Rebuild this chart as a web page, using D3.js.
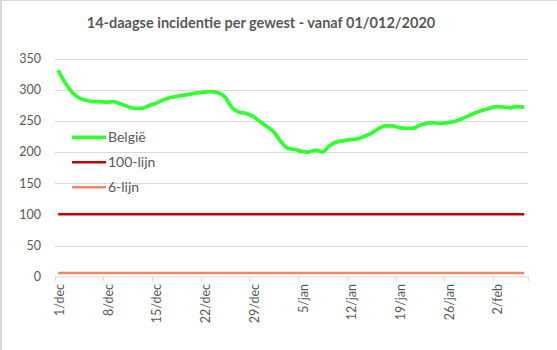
<!DOCTYPE html>
<html>
<head>
<meta charset="utf-8">
<script src="https://cdn.jsdelivr.net/npm/d3@7"></script>
<style>
  html, body { margin: 0; padding: 0; background: #fff; }
  svg { display: block; }
  text { font-family: Lato, "Open Sans", sans-serif; fill: #595959; }
</style>
</head>
<body>
<svg id="chart" width="557" height="350"></svg>
<script>
const title = "14-daagse incidentie per gewest - vanaf 01/012/2020";
const months = ["dec", "jan", "feb"];
const startDate = new Date(2020, 11, 1);
const belgie = [
  331, 311, 296, 287, 283, 281, 281, 280, 281, 277,
  273, 270, 270, 274, 278, 283, 287, 289, 291, 293,
  295, 296, 297, 295, 288, 271, 264, 262, 257, 249,
  241, 232, 217, 206, 204, 201, 200, 203, 200, 210,
  216, 218, 220, 221, 225, 230, 237, 242, 242, 239,
  238, 238, 243, 246, 247, 246, 247, 249, 253, 258,
  263, 267, 270, 273, 272, 271, 273, 272
];
const lijn100 = belgie.map(() => 100);
const lijn6 = belgie.map(() => 6);
const yTicks = [0, 50, 100, 150, 200, 250, 300, 350];
const seriesNames = ["België", "100-lijn", "6-lijn"];
const seriesColors = ["#33ff33", "#c00000", "#f0896a"];

const dates = belgie.map((_, i) => d3.timeDay.offset(startDate, i));
const fmt = d => d.getDate() + "/" + months[(d.getMonth() + 1) % 12];

const svg = d3.select("#chart");
// outer frame (left/top)
svg.append("line").attr("x1", 1).attr("x2", 1).attr("y1", 0).attr("y2", 350).attr("stroke", "#d9d9d9").attr("stroke-width", 2);
svg.append("line").attr("x1", 0).attr("x2", 557).attr("y1", 0.5).attr("y2", 0.5).attr("stroke", "#d9d9d9").attr("stroke-width", 1);

const x0 = 54.7, x1 = 527.7;
const x = d3.scaleBand().domain(d3.range(belgie.length)).range([x0, x1]);
const y = d3.scaleLinear().domain([0, 350]).range([276.7, 58.5]);

// gridlines
svg.append("g").selectAll("line").data(yTicks.filter(v => v > 0)).join("line")
  .attr("x1", x0).attr("x2", x1)
  .attr("y1", d => Math.round(y(d)) + 0.5).attr("y2", d => Math.round(y(d)) + 0.5)
  .attr("stroke", "#d9d9d9").attr("stroke-width", 1);

// y labels
svg.append("g").selectAll("text").data(yTicks).join("text")
  .attr("x", 41).attr("y", d => y(d)).attr("dy", "0.35em")
  .attr("text-anchor", "end").attr("font-size", 12.5).text(d => d);

// x axis
const xa = svg.append("g");
xa.append("line").attr("x1", x0).attr("x2", x1).attr("y1", 277).attr("y2", 277)
  .attr("stroke", "#d9d9d9").attr("stroke-width", 1);
const tickIdx = d3.range(0, belgie.length, 7);
xa.selectAll("line.tk").data(tickIdx.concat([belgie.length])).join("line").attr("class", "tk")
  .attr("x1", d => Math.round(x0 + d * x.step()) + 0.5).attr("x2", d => Math.round(x0 + d * x.step()) + 0.5)
  .attr("y1", 277).attr("y2", 281).attr("stroke", "#d9d9d9");
xa.selectAll("text").data(tickIdx).join("text")
  .attr("transform", d => `translate(${x(d) + x.bandwidth() / 2 + 1.5},284) rotate(-90)`)
  .attr("text-anchor", "end").attr("dy", "0.35em").attr("font-size", 12.5)
  .text(d => fmt(dates[d]));

// lines
const line = d3.line().x((d, i) => x(i) + x.bandwidth() / 2).y(d => y(d)).curve(d3.curveMonotoneX);
svg.append("path").datum(lijn6).attr("d", line).attr("fill", "none")
  .attr("stroke", seriesColors[2]).attr("stroke-width", 2.5);
svg.append("path").datum(lijn100).attr("d", line).attr("fill", "none")
  .attr("stroke", seriesColors[1]).attr("stroke-width", 2.5);
svg.append("path").datum(belgie).attr("d", line).attr("fill", "none")
  .attr("stroke", seriesColors[0]).attr("stroke-width", 3.75).attr("stroke-linejoin", "round");

// legend
const lg = svg.append("g");
seriesNames.forEach((n, i) => {
  const ly = 137.3 + i * 25;
  lg.append("line").attr("x1", 72).attr("x2", 106).attr("y1", ly).attr("y2", ly)
    .attr("stroke", seriesColors[i]).attr("stroke-width", i === 0 ? 3.75 : 2.5);
  lg.append("text").attr("x", 108).attr("y", ly).attr("dy", "0.35em")
    .attr("font-size", 14).text(n);
});

// title
svg.append("text").attr("x", 261).attr("y", 28).attr("text-anchor", "middle")
  .attr("font-size", 14.5).attr("font-weight", "bold").text(title);
</script>
</body>
</html>
